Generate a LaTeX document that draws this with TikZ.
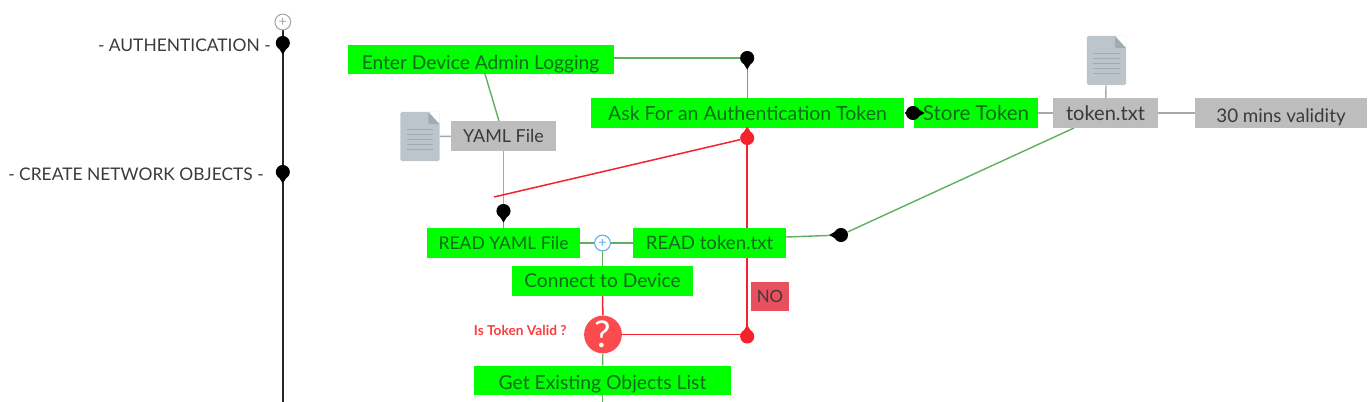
\documentclass[tikz,border=0pt]{standalone}
\usepackage{fontspec}
\setmainfont{Lato}
\usepackage{tikz}
\usetikzlibrary{backgrounds}
\definecolor{StepGreen}{HTML}{00FF00}
\definecolor{StepInk}{HTML}{0F6A1C}
\definecolor{InfoGray}{HTML}{BDBDBD}
\definecolor{InfoInk}{HTML}{3A3A3A}
\definecolor{EdgeGreen}{HTML}{5DB05D}
\definecolor{EdgeGray}{HTML}{A8A8A8}
\definecolor{EdgeRed}{HTML}{F5222D}
\definecolor{LabelRed}{HTML}{FF3B3B}
\definecolor{AskRed}{HTML}{FB4B4F}
\definecolor{NoRed}{HTML}{E8505F}
\definecolor{DocGray}{HTML}{BBC5CB}
\definecolor{DocDark}{HTML}{9FADB3}
\definecolor{PlusBlue}{HTML}{5AAEE6}
\tikzset{
  textsize/.style={font=\fontsize{#1}{12}\selectfont},
  stepnode/.style={fill=StepGreen,minimum height=16.6pt,inner sep=0pt,
    textsize=10.9,text=StepInk,align=center},
  infonode/.style={fill=InfoGray,minimum height=16.6pt,inner sep=0pt,
    textsize=10.6,text=InfoInk,align=center},
  phasenode/.style={anchor=east,inner sep=0pt,textsize=9.9,text=InfoInk},
  plusnode/.style={circle,draw=#1,fill=white,line width=0.6pt,minimum size=9pt,inner sep=0pt,
    textsize=8,text=#1},
  docnode/.style={fill=DocGray,rounded corners=1pt,minimum width=22.4pt,minimum height=28pt,inner sep=0pt,
    path picture={
      \fill[white] ([xshift=-6.5pt]path picture bounding box.north east) -- (path picture bounding box.north east)
        -- ([yshift=-7pt]path picture bounding box.north east) -- cycle;
      \fill[DocDark] ([xshift=-6.5pt]path picture bounding box.north east) -- ([xshift=-6.5pt,yshift=-7pt]path picture bounding box.north east)
        -- ([yshift=-7pt]path picture bounding box.north east) -- cycle;
      \foreach \ln in {-4,-1.2,1.6,4.4,7.2}
        \draw[DocDark,line width=0.7pt] ([xshift=-7.5pt,yshift=-\ln pt]path picture bounding box.center) -- ([xshift=7.5pt,yshift=-\ln pt]path picture bounding box.center);
    }},
  dropnode/.style={circle,fill=#1,minimum size=8pt,inner sep=0pt},
  edgeG/.style={line width=0.8pt,draw=EdgeGreen},
  edgeN/.style={line width=0.8pt,draw=EdgeGray},
  edgeR/.style={line width=0.85pt,draw=EdgeRed},
  edgeK/.style={line width=0.9pt,draw=black!85},
}
\newcommand{\droptip}[3]{\fill[#1] ([shift={(#3+90:4pt)}]#2.center) -- ([shift={(#3:6.6pt)}]#2.center) -- ([shift={(#3-90:4pt)}]#2.center) -- cycle;}
\newcommand{\lowtext}[2]{\raisebox{#1}[0pt][0pt]{#2}}

\begin{document}
\begin{tikzpicture}[x=0.02cm,y=-0.02cm]
  \useasboundingbox (0,0) rectangle (1370,402);
  \node[plusnode=gray!70] (start) at (282.8,22) {+};
  \node[dropnode=black] (auth) at (282.8,43) {};
  \node[dropnode=black] (create) at (282.8,172) {};
  \coordinate (spineend) at (282.8,402);
  \node[phasenode] (authlabel) at (271,45) {- AUTHENTICATION -};
  \node[phasenode] (createlabel) at (264,174) {- CREATE NETWORK OBJECTS -};

  \node[stepnode,minimum width=151.4pt] (enter) at (480.5,59.5) {\lowtext{-5.6pt}{Enter Device Admin Logging}};
  \node[dropnode=black] (joinask) at (747.2,58) {};
  \node[stepnode,minimum width=178.6pt,textsize=11.1] (ask) at (747.5,113) {Ask For an Authentication Token};
  \node[stepnode,minimum width=70.3pt,textsize=11.7] (store) at (976,113) {Store Token};
  \node[dropnode=black] (joinstore) at (913,113) {};
  \node[infonode,minimum width=59.5pt,textsize=11.4] (tokenfile) at (1105.5,113) {token.txt};
  \node[infonode,minimum width=97.5pt,textsize=10.7] (validity) at (1281,113) {\lowtext{-5.6pt}{30 mins validity}};
  \node[docnode] (tokendoc) at (1106.5,60.5) {};
  \node[infonode,minimum width=59.5pt,textsize=10.2] (yamlfile) at (503.5,136) {YAML File};
  \node[docnode] (yamldoc) at (420,136.5) {};
  \node[dropnode=EdgeRed] (retrytop) at (747.2,138) {};
  \coordinate (retryend) at (494,197);
  \node[dropnode=black] (joinyaml) at (503.5,211) {};
  \node[stepnode,minimum width=86.7pt,textsize=10] (readyaml) at (503.5,243) {READ YAML File};
  \node[plusnode=PlusBlue] (fork) at (602.5,243) {+};
  \node[stepnode,minimum width=86.7pt,textsize=10.6] (readtoken) at (709.5,243) {READ token.txt};
  \node[dropnode=black] (jointoken) at (841,235) {};
  \node[stepnode,minimum width=102.6pt] (connect) at (602.5,281) {Connect to Device};
  \node[circle,fill=AskRed,minimum size=21.5pt,inner sep=0pt,text=white,textsize=21] (valid) at (603,334.5) {?};
  \node[anchor=east,inner sep=0pt,text=LabelRed,font=\fontsize{7.8}{8}\selectfont\bfseries] (validlabel) at (567,330) {Is Token Valid ?};
  \node[dropnode=EdgeRed] (retrylow) at (747.2,336.5) {};
  \node[fill=NoRed,minimum width=21.5pt,minimum height=16.6pt,inner sep=0pt,text=InfoInk,textsize=9.6] (no) at (770,296.5) {NO};
  \node[stepnode,minimum width=146.8pt,textsize=11] (getlist) at (602.5,380.5) {\lowtext{-5.2pt}{Get Existing Objects List}};
  \coordinate (listend) at (602.5,402);

  \droptip{black}{auth}{-90}
  \droptip{black}{create}{-90}
  \droptip{black}{joinask}{-90}
  \droptip{black}{joinyaml}{-90}
  \droptip{EdgeRed}{retrytop}{90}
  \droptip{EdgeRed}{retrylow}{90}
  \droptip{black}{joinstore}{0}
  \droptip{black}{jointoken}{180}

  \begin{scope}[on background layer]
    \draw[edgeK] (start) -- (spineend);
    \draw[edgeG] (enter.east |- joinask) -- (joinask);
    \draw[edgeG] (joinask) -- (joinask |- ask.north);
    \draw[edgeG] (485,74) -- (yamlfile.north -| 499,0);
    \draw[edgeN] (yamldoc) -- (yamlfile);
    \draw[edgeN] (yamlfile) -- (joinyaml);
    \draw[edgeG] (joinyaml) -- (readyaml);
    \draw[edgeK] (ask.east) -- (joinstore);
    \draw[edgeN] (store) -- (tokenfile);
    \draw[edgeN] (tokenfile) -- (validity);
    \draw[edgeN] (tokendoc) -- (tokenfile);
    \draw[edgeG] (1074,128) -- (jointoken);
    \draw[edgeG] ([yshift=3.4pt]readtoken.east) -- (jointoken);
    \draw[edgeG] (readyaml) -- (fork);
    \draw[edgeG] (fork) -- (readtoken);
    \draw[edgeG] (fork) -- (connect);
    \draw[edgeR] (connect) -- (valid);
    \draw[edgeG] (valid) -- (getlist);
    \draw[edgeG] (getlist) -- (listend);
    \draw[edgeR] (valid) -- (valid -| retrylow);
    \draw[edgeR] (retrylow) -- (retrytop);
    \draw[edgeR] (retrytop) -- (retryend);
  \end{scope}
\end{tikzpicture}
\end{document}
